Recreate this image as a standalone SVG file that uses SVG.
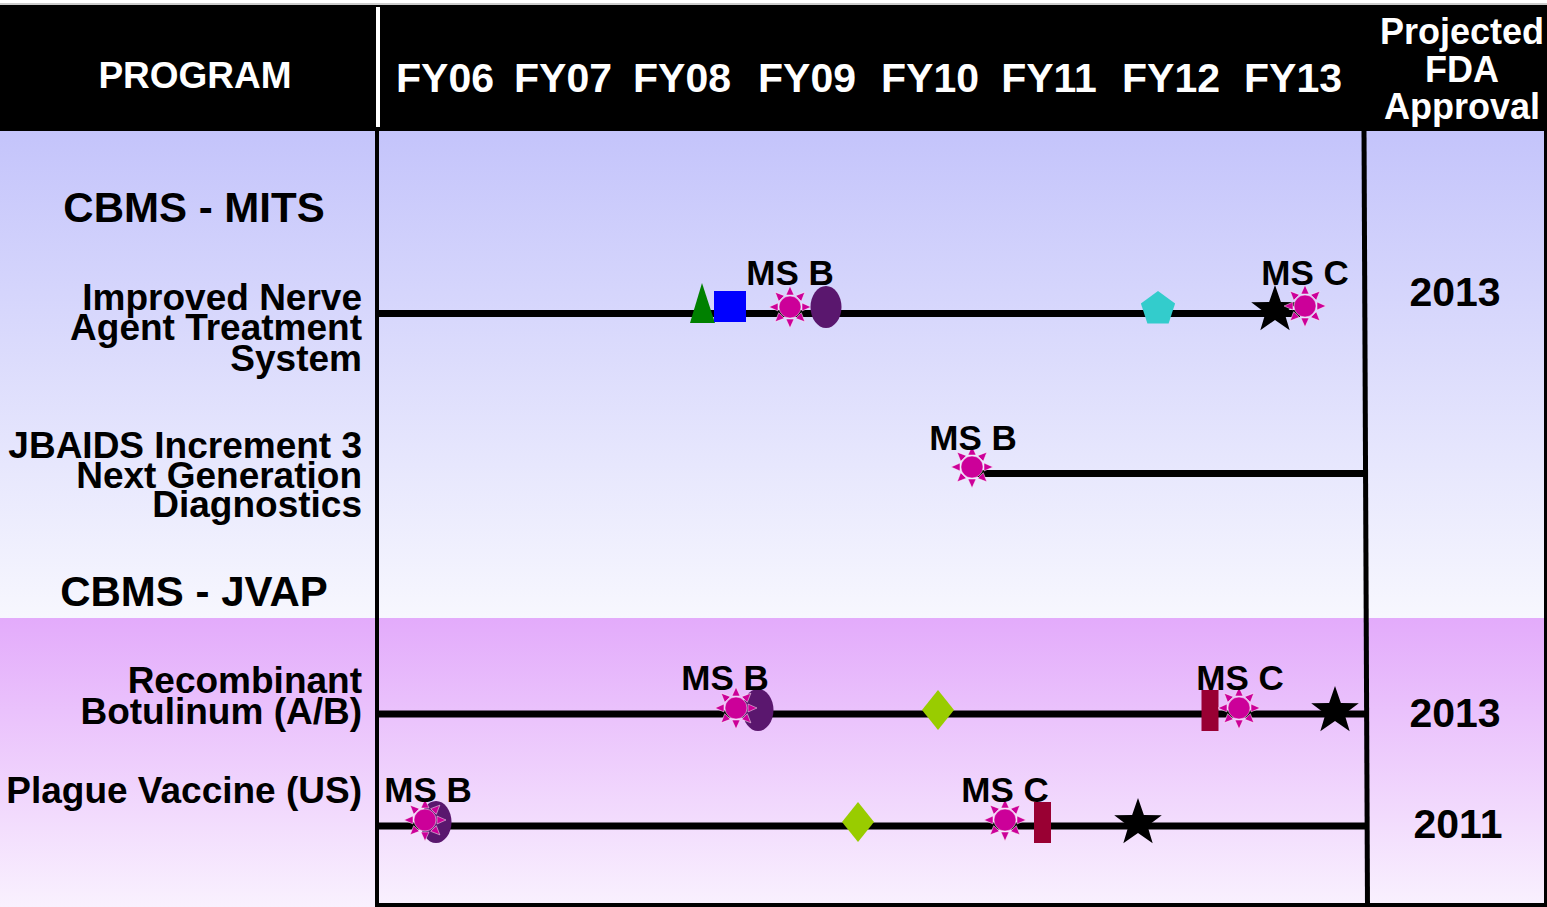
<svg xmlns="http://www.w3.org/2000/svg" xmlns:xlink="http://www.w3.org/1999/xlink" width="1547" height="907" viewBox="0 0 1547 907">
<style>
.hdr{font-family:"Liberation Sans",Arial,sans-serif;font-weight:bold;fill:#fff}
.t{font-family:"Liberation Sans",Arial,sans-serif;font-weight:bold;fill:#000}
.ms{font-size:35px;text-anchor:middle}
.prog{font-size:37px;text-anchor:end}
.sec{font-size:42px;text-anchor:middle}
.yr{font-size:41px;text-anchor:middle}
.tl{stroke:#000;stroke-width:7;fill:none}
.grid{stroke:#000;fill:none}
</style>
<defs>
<linearGradient id="gTop" x1="0" y1="0" x2="0" y2="1">
<stop offset="0" stop-color="#c4c4fb"/>
<stop offset="1" stop-color="#f7f7fe"/>
</linearGradient>
<linearGradient id="gBot" x1="0" y1="0" x2="0" y2="1">
<stop offset="0" stop-color="#e3abfb"/>
<stop offset="1" stop-color="#f9f1fe"/>
</linearGradient>
<g id="sun">
<g fill="#cc0099" stroke="#fff" stroke-width="0.8" stroke-opacity="0.6">
<polygon points="0,-21 4,-12 -4,-12"/>
<polygon points="0,-21 4,-12 -4,-12" transform="rotate(45)"/>
<polygon points="0,-21 4,-12 -4,-12" transform="rotate(90)"/>
<polygon points="0,-21 4,-12 -4,-12" transform="rotate(135)"/>
<polygon points="0,-21 4,-12 -4,-12" transform="rotate(180)"/>
<polygon points="0,-21 4,-12 -4,-12" transform="rotate(225)"/>
<polygon points="0,-21 4,-12 -4,-12" transform="rotate(270)"/>
<polygon points="0,-21 4,-12 -4,-12" transform="rotate(315)"/>
<circle r="11"/>
</g>
</g>
<path id="star" fill="#000" d="M0,-25 L5.88,-8.09 L23.78,-7.73 L9.51,3.09 L14.69,20.23 L0,10 L-14.69,20.23 L-9.51,3.09 L-23.78,-7.73 L-5.88,-8.09 Z"/>
<ellipse id="oval" rx="15.5" ry="21" fill="#5a176e"/>
<polygon id="diamond" points="0,-20 16,0 0,20 -16,0" fill="#99cc00"/>
<rect id="bar" x="-8.5" y="-20.5" width="17" height="41" fill="#990033"/>
</defs>

<!-- backgrounds -->
<rect x="0" y="130" width="1547" height="488" fill="url(#gTop)"/>
<rect x="0" y="618" width="1547" height="289" fill="url(#gBot)"/>

<!-- header -->
<g id="header">
<line x1="0" y1="4" x2="1547" y2="4" stroke="#bbb" stroke-width="1.5"/>
<rect x="0" y="5" width="1547" height="126" fill="#000"/>
<rect x="376" y="7" width="4" height="120" fill="#fff"/>
<text class="hdr" x="195" y="88" font-size="37" text-anchor="middle">PROGRAM</text>
<g font-size="41" text-anchor="middle">
<text class="hdr" x="445" y="92">FY06</text>
<text class="hdr" x="563" y="92">FY07</text>
<text class="hdr" x="682" y="92">FY08</text>
<text class="hdr" x="807" y="92">FY09</text>
<text class="hdr" x="930" y="92">FY10</text>
<text class="hdr" x="1049" y="92">FY11</text>
<text class="hdr" x="1171" y="92">FY12</text>
<text class="hdr" x="1293" y="92">FY13</text>
</g>
<g font-size="36" text-anchor="middle">
<text class="hdr" x="1462" y="44">Projected</text>
<text class="hdr" x="1462" y="82">FDA</text>
<text class="hdr" x="1462" y="119">Approval</text>
</g>
</g>

<!-- grid lines -->
<g id="grid">
<line class="grid" x1="377" y1="130" x2="377" y2="907" stroke-width="4"/>
<line class="grid" x1="1364" y1="130" x2="1367.5" y2="905" stroke-width="5"/>
<line class="grid" x1="375" y1="905" x2="1547" y2="905" stroke-width="4"/>
<line class="grid" x1="1545.5" y1="130" x2="1545.5" y2="907" stroke-width="3"/>
</g>

<!-- section labels -->
<g id="sec-mits"><text class="t sec" x="194" y="222">CBMS - MITS</text></g>
<g id="sec-jvap"><text class="t sec" x="194" y="606">CBMS - JVAP</text></g>

<!-- connectors (timelines) -->
<g id="connectors">
<line class="tl" x1="379" y1="313.5" x2="1300" y2="313.5"/>
<line class="tl" x1="975" y1="473.5" x2="1366" y2="473.5"/>
<line class="tl" x1="379" y1="714" x2="1366" y2="714"/>
<line class="tl" x1="379" y1="826" x2="1367" y2="826"/>
</g>

<!-- row 1 -->
<g id="row-nerve">
<text class="t prog" x="362" y="310">Improved Nerve</text>
<text class="t prog" x="362" y="340">Agent Treatment</text>
<text class="t prog" x="362" y="371">System</text>
<polygon points="702,283 690,323 715,323" fill="#008000"/>
<rect x="714" y="291" width="32" height="31" fill="#0000ff"/>
<use xlink:href="#sun" href="#sun" x="790" y="307"/>
<use xlink:href="#oval" href="#oval" x="826" y="307"/>
<text class="t ms" x="790" y="285">MS B</text>
<polygon points="1158,291 1175.1,303.4 1168.6,323.5 1147.4,323.5 1140.9,303.4" fill="#33cccc"/>
<use xlink:href="#star" href="#star" x="1275" y="310"/>
<use xlink:href="#sun" href="#sun" x="1305" y="306"/>
<text class="t ms" x="1305" y="285">MS C</text>
<text class="t yr" x="1455" y="306">2013</text>
</g>

<!-- row 2 -->
<g id="row-jbaids">
<text class="t prog" x="362" y="458">JBAIDS Increment 3</text>
<text class="t prog" x="362" y="488">Next Generation</text>
<text class="t prog" x="362" y="517">Diagnostics</text>
<use xlink:href="#sun" href="#sun" x="972" y="467"/>
<text class="t ms" x="973" y="450">MS B</text>
</g>

<!-- row 3 -->
<g id="row-botulinum">
<text class="t prog" x="362" y="693">Recombinant</text>
<text class="t prog" x="362" y="724">Botulinum (A/B)</text>
<use xlink:href="#oval" href="#oval" x="758" y="710"/>
<use xlink:href="#sun" href="#sun" x="736" y="708"/>
<text class="t ms" x="725" y="690">MS B</text>
<use xlink:href="#diamond" href="#diamond" x="938" y="710"/>
<use xlink:href="#bar" href="#bar" x="1210" y="710.5"/>
<use xlink:href="#sun" href="#sun" x="1239" y="708"/>
<text class="t ms" x="1240" y="690">MS C</text>
<use xlink:href="#star" href="#star" x="1335" y="711"/>
<text class="t yr" x="1455" y="727">2013</text>
</g>

<!-- row 4 -->
<g id="row-plague">
<text class="t prog" x="362" y="803">Plague Vaccine (US)</text>
<use xlink:href="#oval" href="#oval" x="436" y="822"/>
<use xlink:href="#sun" href="#sun" x="425" y="820"/>
<text class="t ms" x="428" y="802">MS B</text>
<use xlink:href="#diamond" href="#diamond" x="858" y="822"/>
<use xlink:href="#sun" href="#sun" x="1005" y="820"/>
<text class="t ms" x="1005" y="802">MS C</text>
<use xlink:href="#bar" href="#bar" x="1042.5" y="822.5"/>
<use xlink:href="#star" href="#star" x="1138" y="823"/>
<text class="t yr" x="1458" y="838">2011</text>
</g>
</svg>
